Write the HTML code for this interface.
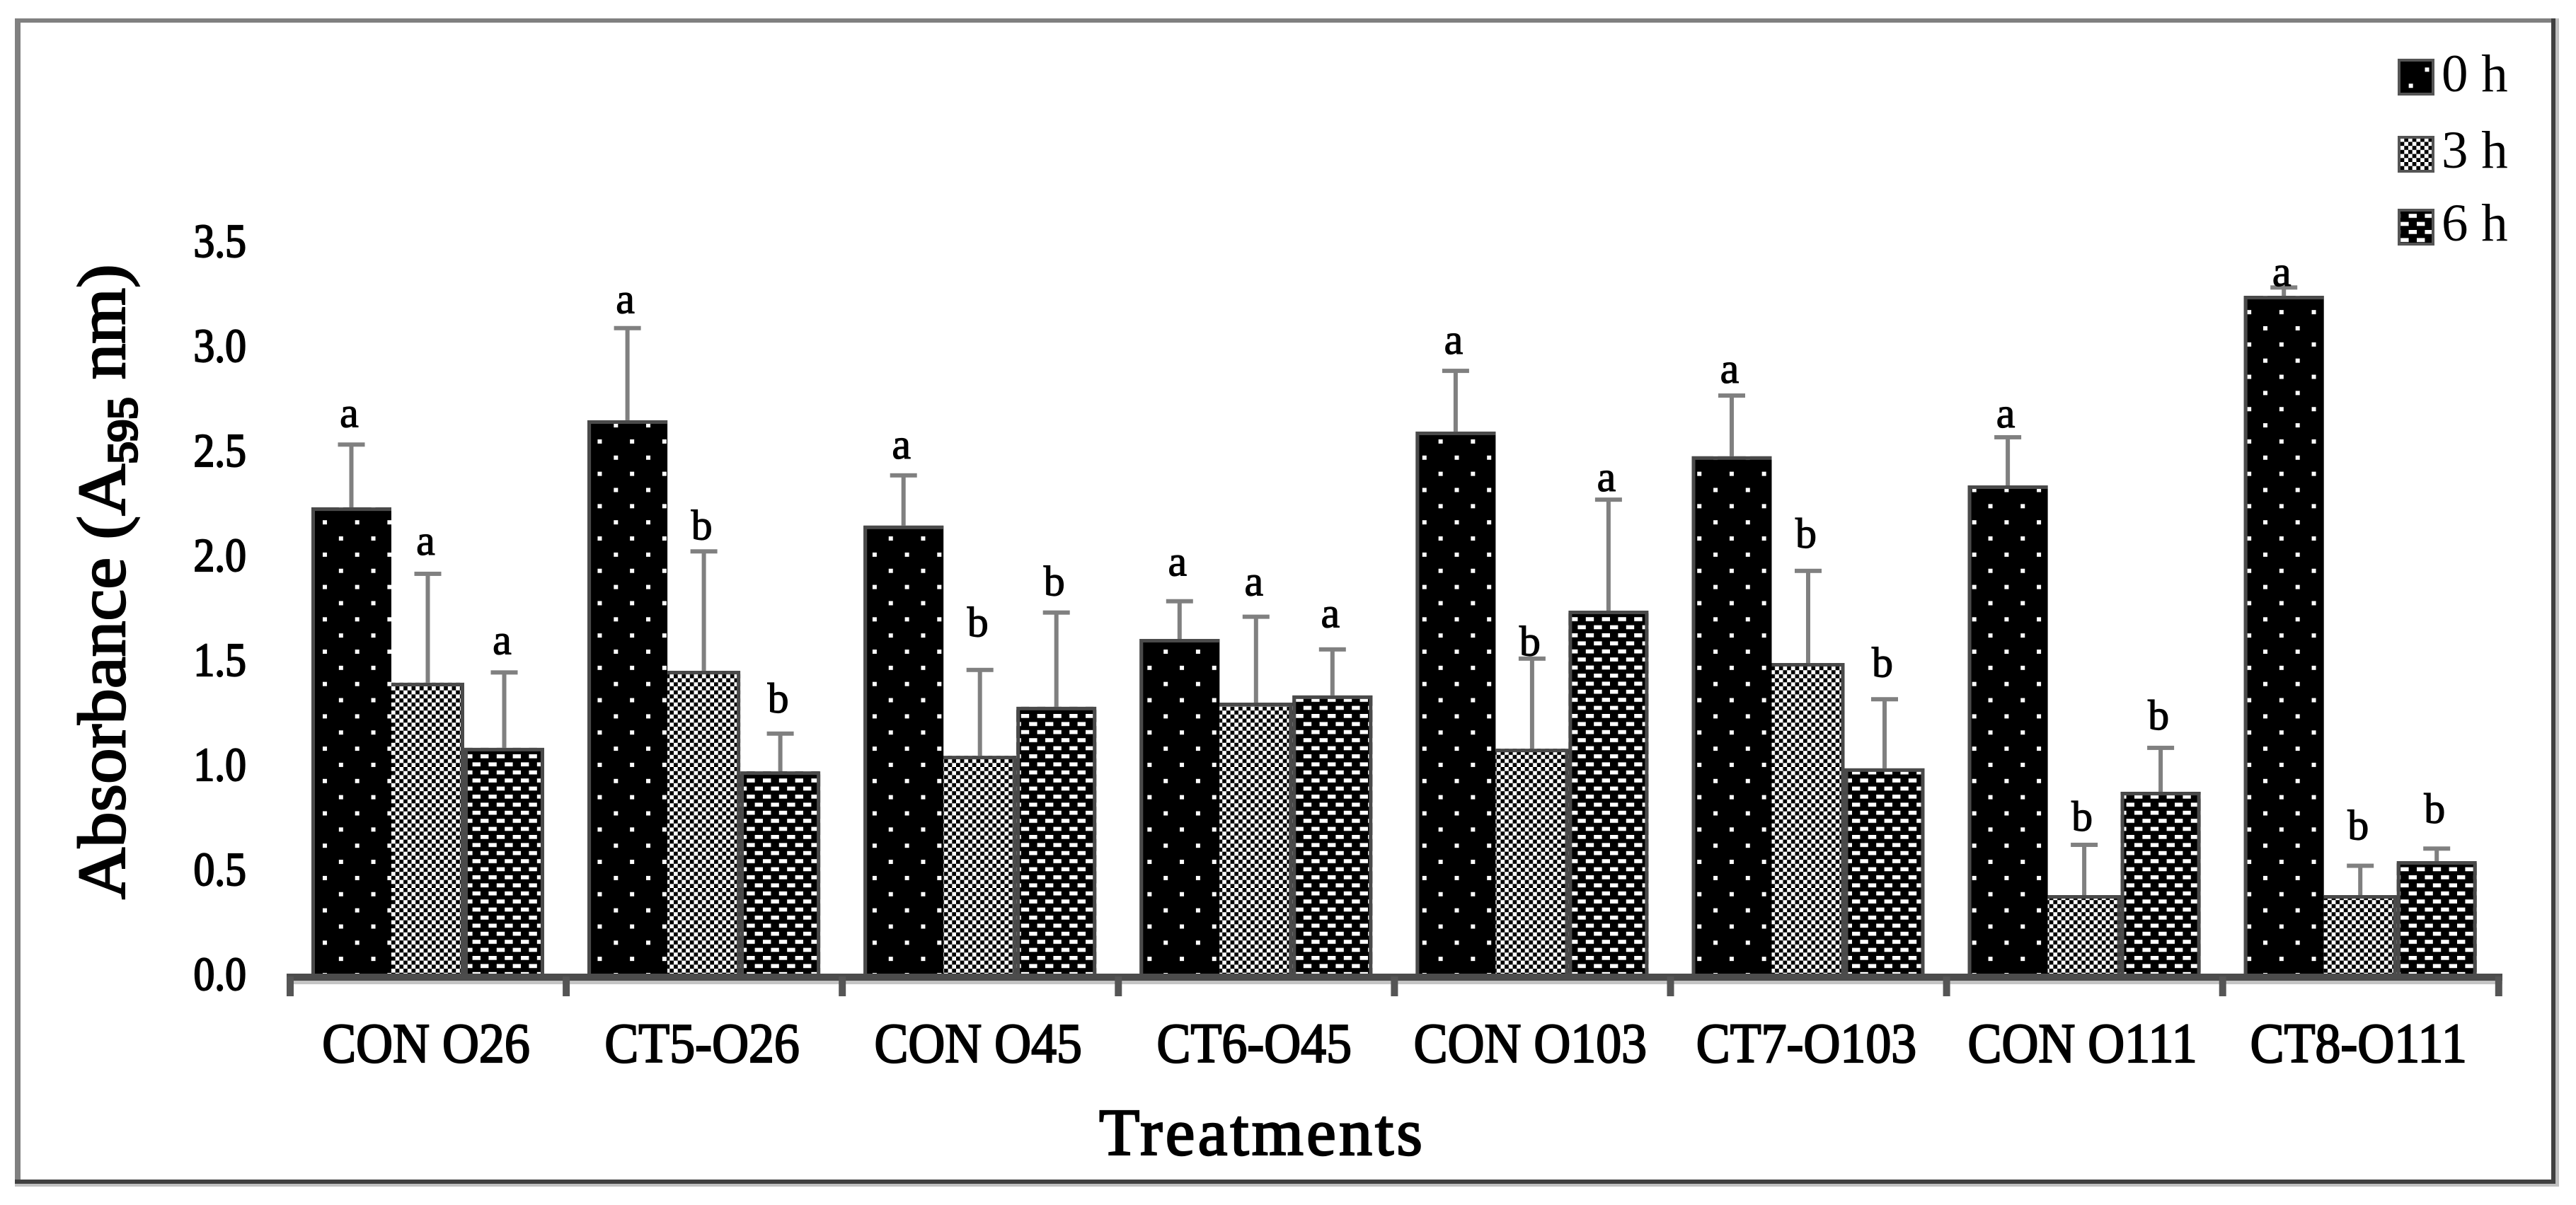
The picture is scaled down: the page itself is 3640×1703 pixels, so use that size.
<!DOCTYPE html>
<html lang="en">
<head>
<meta charset="utf-8">
<title>Absorbance by treatment</title>
<style>
html,body{margin:0;padding:0;background:#fff;}
svg{display:block;}
text{font-family:"Liberation Serif",serif;fill:#000;}
.axis-text{stroke:#000;stroke-width:2.2px;}
.title-text{stroke:#000;stroke-width:2.4px;}
.letter-text{stroke:#000;stroke-width:1.2px;}
</style>
</head>
<body>
<svg id="chart" xmlns="http://www.w3.org/2000/svg" width="3640" height="1703" viewBox="0 0 3640 1703">
  <defs>
    <pattern id="pat-0h" patternUnits="userSpaceOnUse" x="456" y="918" width="45.7" height="45.7">
      <rect width="45.7" height="45.7" fill="#000"/>
      <rect x="0" y="0" width="6" height="6" fill="#fff"/>
      <rect x="22.85" y="22.85" width="6" height="6" fill="#fff"/>
    </pattern>
    <pattern id="pat-3h" patternUnits="userSpaceOnUse" x="553" y="970" width="11.4" height="11.4">
      <rect width="11.4" height="11.4" fill="#000"/>
      <rect x="0" y="0" width="5.7" height="5.7" fill="#fff"/>
      <rect x="5.7" y="5.7" width="5.7" height="5.7" fill="#fff"/>
    </pattern>
    <pattern id="pat-6h" patternUnits="userSpaceOnUse" x="679" y="1066" width="22.8" height="22.8">
      <rect width="22.8" height="22.8" fill="#000"/>
      <rect x="0" y="0" width="11.4" height="5.7" fill="#fff"/>
      <rect x="11.4" y="11.4" width="11.4" height="5.7" fill="#fff"/>
    </pattern>
  </defs>

  <rect x="0" y="0" width="3640" height="1703" fill="#fff"/>

  <g>
    <rect x="21" y="26" width="3590" height="6" fill="#808080"/>
    <rect x="21" y="26" width="8" height="1647" fill="#808080"/>
    <rect x="3605" y="26" width="6" height="1647" fill="#404040"/>
    <rect x="3611" y="26" width="5" height="1651" fill="#c0c0c0"/>
    <rect x="21" y="1667" width="3590" height="6" fill="#404040"/>
    <rect x="21" y="1673" width="3595" height="4" fill="#c0c0c0"/>
  </g>

  <g id="plot"></g>

  <text class="title-text" transform="translate(176,1271) rotate(-90) scale(1.065,1)" font-size="95">Absorbance (A<tspan font-size="59" dy="17" stroke-width="3.5">595</tspan><tspan dy="-17"> nm)</tspan></text>
  <text class="title-text" x="1553" y="1632" font-size="94" textLength="457" lengthAdjust="spacing">Treatments</text>

  <g>
    <g>
      <rect x="3390" y="85" width="48" height="48" fill="url(#pat-0h)" stroke="#555" stroke-width="4"/>
      <text x="3450" y="129" font-size="75">0 h</text>
    </g>
    <g>
      <rect x="3390" y="194" width="48" height="48" fill="url(#pat-3h)" stroke="#555" stroke-width="4"/>
      <text x="3450" y="237" font-size="75">3 h</text>
    </g>
    <g>
      <rect x="3390" y="297" width="48" height="48" fill="url(#pat-6h)" stroke="#555" stroke-width="4"/>
      <text x="3450" y="340" font-size="75">6 h</text>
    </g>
  </g>
</svg>

<script>
const categories = ["CON O26", "CT5-O26", "CON O45", "CT6-O45", "CON O103", "CT7-O103", "CON O111", "CT8-O111"];
const seriesNames = ["0h", "3h", "6h"];
const yTicks = ["0.0", "0.5", "1.0", "1.5", "2.0", "2.5", "3.0", "3.5"];

const values0h = [2.226, 2.642, 2.139, 1.598, 2.588, 2.470, 2.331, 3.236];
const values3h = [1.389, 1.446, 1.040, 1.294, 1.074, 1.483, 0.375, 0.375];
const values6h = [1.078, 0.966, 1.274, 1.328, 1.733, 0.980, 0.868, 0.537];

const errors0h = [0.30, 0.44, 0.24, 0.18, 0.29, 0.29, 0.23, 0.04];
const errors3h = [0.52, 0.57, 0.41, 0.41, 0.43, 0.44, 0.24, 0.14];
const errors6h = [0.36, 0.18, 0.45, 0.22, 0.53, 0.33, 0.21, 0.06];

const letters0h = ["a", "a", "a", "a", "a", "a", "a", "a"];
const letters3h = ["a", "b", "b", "a", "b", "b", "b", "b"];
const letters6h = ["a", "b", "b", "a", "a", "b", "b", "b"];

/* height of each significance letter above its error cap, in absorbance units */
const letterLift0h = [0.084, 0.071, 0.081, 0.122, 0.081, 0.061, 0.047, 0.007];
const letterLift3h = [0.091, 0.057, 0.159, 0.101, 0.014, 0.111, 0.068, 0.125];
const letterLift6h = [0.088, 0.101, 0.081, 0.105, 0.041, 0.108, 0.088, 0.122];

const SVG_NS = "http://www.w3.org/2000/svg";
const plot = document.getElementById("plot");

function yScale(v) { return 1376 - 296 * v; }
function tickX(i) { return 410 + 390.1 * i; }
function barLeft(groupIndex, seriesIndex) {
  const offsets = [30, 143, 246, 359];
  return tickX(groupIndex) + offsets[seriesIndex];
}
function mk(tag, attrs, text) {
  const el = document.createElementNS(SVG_NS, tag);
  for (const k in attrs) el.setAttribute(k, attrs[k]);
  if (text !== undefined) el.textContent = text;
  plot.appendChild(el);
  return el;
}

const seriesValues = [values0h, values3h, values6h];
const seriesErrors = [errors0h, errors3h, errors6h];
const seriesLetters = [letters0h, letters3h, letters6h];
const seriesLifts = [letterLift0h, letterLift3h, letterLift6h];

categories.forEach(function (cat, g) {
  seriesNames.forEach(function (name, s) {
    const left = barLeft(g, s);
    const right = barLeft(g, s + 1);
    const top = yScale(seriesValues[s][g]);
    const base = yScale(0);
    const bar = mk("rect", {
      x: left, y: top,
      width: right - left, height: base - top,
      fill: "url(#pat-" + name + ")"
    });
    
    
    /* outline: 0h left+top, 3h top+right, 6h left+top+right */
    const l = left + 2.5, r = right - 2.5, t = top + 2.5;
    const d = s === 0 ? "M" + l + " " + base + "V" + t + "H" + right
            : s === 1 ? "M" + left + " " + t + "H" + r + "V" + base
            : "M" + l + " " + base + "V" + t + "H" + r + "V" + base;
    const edge = mk("path", { d: d, fill: "none", stroke: "#4a4a4a", "stroke-width": 5 });
    
    
  });
});

categories.forEach(function (cat, g) {
  seriesNames.forEach(function (name, s) {
    const cx = (barLeft(g, s) + barLeft(g, s + 1)) / 2;
    const val = seriesValues[s][g];
    const upper = val + seriesErrors[s][g];
    const stem = mk("rect", {
      x: cx - 3, y: yScale(upper), width: 6,
      height: yScale(val) - yScale(upper), fill: "#808080"
    });
    
    
    const cap = mk("rect", {
      x: cx - 19, y: yScale(upper) - 3, width: 38, height: 6, fill: "#808080"
    });
    
    
    const letter = mk("text", {
      x: cx - 3, y: yScale(upper + seriesLifts[s][g]),
      "font-size": 60, "text-anchor": "middle", class: "letter-text"
    }, seriesLetters[s][g]);
    
    
  });
});

const axisShadow = mk("rect", { x: 405, y: 1386, width: 3131, height: 5, fill: "#c4c4c4" });


const axisLine = mk("rect", { x: 405, y: 1376, width: 3131, height: 10, fill: "#4c4c4c" });



for (let i = 0; i <= categories.length; i++) {
  const tick = mk("rect", { x: tickX(i) - 5, y: 1380, width: 10, height: 28, fill: "#555" });
  
  
}

categories.forEach(function (cat, g) {
  const cx = tickX(g) + 195 - 3;
  const label = mk("text", {
    transform: "translate(" + cx + ",1501) scale(0.91,1)",
    "font-size": 79, "text-anchor": "middle", class: "axis-text"
  }, cat);
  
  
});

yTicks.forEach(function (t) {
  const label = mk("text", {
    transform: "translate(348," + (yScale(parseFloat(t)) + 23) + ") scale(0.89,1)",
    "font-size": 67, "text-anchor": "end", class: "axis-text"
  }, t);
  
  
});
</script>
</body>
</html>
